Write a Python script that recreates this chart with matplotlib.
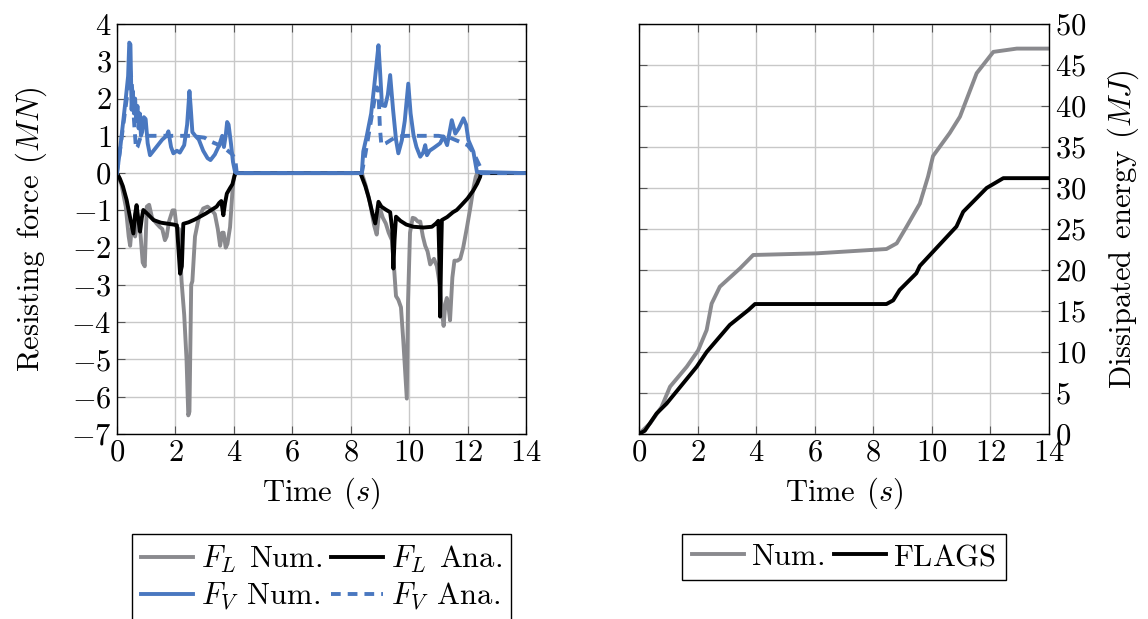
import numpy as np
import matplotlib
matplotlib.use("Agg")
import matplotlib.pyplot as plt

plt.rcParams["font.family"] = "serif"
plt.rcParams["font.serif"] = ["cmr10", "DejaVu Serif"]
plt.rcParams["mathtext.fontset"] = "cm"
plt.rcParams["axes.formatter.use_mathtext"] = True
plt.rcParams["font.size"] = 22

# ---- left panel: resisting forces (MN) ----
t_fl_num = [0, 0.15, 0.3, 0.4, 0.45, 0.5, 0.56, 0.62, 0.7, 0.8, 0.88, 0.95, 1.02, 1.1, 1.2, 1.35,
            1.47, 1.55, 1.64, 1.7, 1.78, 1.9, 1.97, 2.04, 2.12, 2.21, 2.3, 2.38, 2.44, 2.48, 2.54,
            2.58, 2.67, 2.8, 2.95, 3.1, 3.25, 3.35, 3.45, 3.53, 3.6, 3.65, 3.72, 3.78, 3.87, 3.95,
            4.0, 4.05, 8.38, 8.5, 8.66, 8.8, 8.89, 8.95, 9.02, 9.1, 9.2, 9.3, 9.41, 9.48, 9.55,
            9.63, 9.72, 9.8, 9.92, 9.96, 10.03, 10.12, 10.2, 10.3, 10.38, 10.47, 10.55, 10.63,
            10.72, 10.85, 10.95, 11.05, 11.12, 11.18, 11.24, 11.29, 11.35, 11.4, 11.48, 11.55,
            11.65, 11.75, 11.85, 11.98, 12.1, 12.2, 12.28, 12.33, 14]
fl_num = [0, -0.3, -0.9, -1.7, -1.95, -1.5, -1.35, -1.7, -1.3, -1.6, -2.4, -2.5, -0.9, -0.85, -1.2,
          -1.35, -1.45, -1.5, -1.8, -1.7, -1.3, -1.0, -1.0, -1.45, -1.5, -2.9, -3.8, -5.0, -6.5,
          -6.4, -3.0, -2.9, -1.7, -1.2, -0.95, -0.9, -1.0, -1.1, -1.5, -1.95, -1.6, -1.6, -2.0,
          -1.9, -1.45, -0.5, -0.1, 0, 0, -0.3, -0.8, -1.4, -1.65, -1.2, -1.0, -1.2, -1.35, -1.6,
          -1.8, -2.5, -3.3, -3.4, -3.6, -4.5, -6.05, -3.5, -1.6, -1.2, -1.22, -1.3, -1.3, -1.7,
          -1.95, -2.1, -2.45, -2.3, -2.5, -3.0, -3.7, -4.1, -3.5, -3.35, -3.6, -3.95, -2.8,
          -2.35, -2.35, -2.3, -2.0, -1.45, -0.9, -0.4, -0.1, 0, 0]

t_fl_ana = [0, 0.1, 0.2, 0.33, 0.45, 0.56, 0.62, 0.67, 0.74, 0.79, 0.85, 0.9, 1.05, 1.25, 1.5,
            1.75, 1.93, 2.05, 2.16, 2.22, 2.27, 2.45, 2.65, 2.84, 3.05, 3.25, 3.41, 3.5, 3.57,
            3.64, 3.7, 3.76, 3.87, 3.95, 4.0, 4.05, 8.33, 8.38, 8.5, 8.61, 8.75, 8.84, 8.9, 8.95,
            9.05, 9.2, 9.35, 9.42, 9.46, 9.5, 9.55, 9.7, 9.9, 10.15, 10.5, 10.78, 10.92, 11.0,
            11.04, 11.06, 11.1, 11.12, 11.3, 11.5, 11.63, 11.8, 12.0, 12.2, 12.33, 12.43, 12.45,
            14]
fl_ana = [0, -0.15, -0.35, -0.72, -1.2, -1.62, -1.1, -0.86, -1.3, -1.57, -1.2, -0.99, -1.1, -1.26,
          -1.33, -1.36, -1.38, -1.4, -2.7, -2.5, -1.36, -1.32, -1.25, -1.17, -1.08, -0.98, -0.9,
          -0.8, -0.75, -1.13, -0.8, -0.55, -0.4, -0.3, -0.15, 0, 0, -0.1, -0.35, -0.64, -1.1,
          -1.35, -1.05, -0.77, -0.9, -0.98, -1.05, -1.5, -2.56, -1.8, -1.17, -1.28, -1.38, -1.44,
          -1.46, -1.44, -1.35, -1.28, -2.5, -3.85, -2.0, -1.26, -1.18, -1.05, -0.99, -0.85,
          -0.68, -0.46, -0.28, -0.1, 0, 0]

t_fv_num = [0, 0.1, 0.2, 0.3, 0.38, 0.42, 0.46, 0.5, 0.54, 0.58, 0.62, 0.66, 0.7, 0.74, 0.78, 0.82,
            0.86, 0.92, 0.98, 1.05, 1.13, 1.25, 1.4, 1.55, 1.7, 1.76, 1.85, 1.93, 2.05, 2.15, 2.3,
            2.4, 2.48, 2.52, 2.58, 2.68, 2.8, 2.95, 3.1, 3.2, 3.35, 3.5, 3.6, 3.66, 3.72, 3.77,
            3.82, 3.9, 3.97, 4.04, 4.1, 8.38, 8.43, 8.55, 8.7, 8.8, 8.88, 8.95, 9.0, 9.07, 9.18,
            9.27, 9.35, 9.45, 9.55, 9.63, 9.75, 9.85, 9.97, 10.05, 10.15, 10.25, 10.38, 10.48,
            10.55, 10.61, 10.7, 10.85, 11.06, 11.18, 11.3, 11.46, 11.58, 11.7, 11.86, 11.95,
            12.03, 12.2, 12.32, 14]
fv_num = [0, 0.6, 1.3, 2.0, 2.6, 3.5, 3.45, 1.7, 2.2, 1.6, 2.0, 1.4, 1.8, 1.2, 1.6, 1.0, 1.1, 1.5,
          1.45, 0.8, 0.48, 0.6, 0.75, 0.9, 1.0, 1.12, 0.7, 0.53, 0.6, 0.55, 0.75, 1.3, 2.2, 1.8,
          1.1, 1.0, 0.9, 0.6, 0.4, 0.35, 0.5, 0.75, 1.0, 0.7, 1.0, 1.37, 1.3, 0.8, 0.3, 0.03, 0,
          0, 0.58, 1.0, 1.6, 2.3, 2.9, 3.43, 2.8, 1.82, 1.8, 2.1, 2.63, 1.7, 0.9, 0.53, 0.88, 1.4,
          2.4, 1.6, 1.02, 0.7, 0.44, 0.55, 0.75, 0.48, 0.6, 0.68, 0.8, 0.98, 0.75, 1.42, 1.06,
          1.2, 1.47, 1.3, 0.88, 0.57, 0.03, 0]

t_fv_ana = [0, 0.1, 0.2, 0.3, 0.4, 0.45, 0.5, 0.55, 0.6, 0.65, 0.7, 0.8, 1.0, 1.5, 2.0, 2.5, 3.0,
            3.2, 3.5, 3.76, 3.95, 4.05, 4.1, 8.38, 8.5, 8.65, 8.8, 8.9, 8.95, 9.0, 9.05, 9.2, 9.4,
            9.6, 9.92, 10.5, 11.0, 11.4, 11.7, 12.0, 12.2, 12.35, 12.43, 12.45, 14]
fv_ana = [0, 0.6, 1.2, 1.8, 2.4, 2.75, 2.5, 1.8, 1.2, 0.65, 0.7, 0.95, 1.0, 1.0, 1.0, 1.0, 0.95,
          0.85, 0.75, 0.62, 0.5, 0.35, 0, 0, 0.5, 1.2, 1.9, 2.3, 2.2, 1.2, 0.75, 0.8, 0.9, 0.98,
          1.0, 1.0, 1.0, 0.95, 0.85, 0.75, 0.55, 0.3, 0.17, 0, 0]

# ---- right panel: dissipated energy (MJ) ----
t_e_num = [0, 0.03, 0.38, 0.77, 1.06, 1.63, 2.02, 2.31, 2.48, 2.76, 3.45, 3.9, 6.06, 8.45, 8.8,
           9.14, 9.59, 9.87, 10.04, 10.61, 10.96, 11.53, 12.1, 12.9, 14]
e_num = [0, 0.1, 1.3, 3.3, 5.77, 8.2, 10.2, 12.68, 15.9, 17.96, 20.2, 21.83, 22.03, 22.56, 23.25,
         25.3, 28.1, 31.4, 33.9, 36.7, 38.7, 44.0, 46.6, 47.0, 47.0]
t_e_flags = [0, 0.2, 0.6, 0.94, 1.97, 2.31, 3.1, 3.73, 3.96, 8.45, 8.68, 8.9, 9.47, 9.59, 10.84,
             11.07, 11.87, 12.44, 14]
e_flags = [0, 0.4, 2.5, 3.7, 8.2, 10.0, 13.3, 15.1, 15.85, 15.85, 16.3, 17.56, 19.6, 20.5, 25.3,
           27.1, 30.0, 31.2, 31.2]

GRAY = "#8a8a8e"
BLUE = "#4a78c0"
LW = 2.8

fig = plt.figure(figsize=(11.48, 6.19), dpi=100)
ax1 = fig.add_axes([117 / 1148, 1 - 434 / 619, 409 / 1148, 410 / 619])
ax2 = fig.add_axes([639 / 1148, 1 - 434 / 619, 410 / 1148, 410 / 619])


def style(ax):
    ax.grid(True, color="#c8c8c8", lw=1.0)
    ax.set_axisbelow(True)
    ax.tick_params(direction="in", top=True, right=True, length=6, color="#555555",
                   labelsize=22, pad=4)
    for s in ax.spines.values():
        s.set_linewidth(1.0)


leg_kw = dict(loc="upper center", bbox_to_anchor=(0.5, -0.245), borderaxespad=0,
              fancybox=False, edgecolor="black", framealpha=1, fontsize=22,
              handlelength=1.7, handletextpad=0.25, columnspacing=0.3,
              labelspacing=0.2, borderpad=0.3)

ax1.plot(t_fl_num, fl_num, color=GRAY, lw=LW, label=r"$F_L\;\,\mathrm{Num.}$")
ax1.plot(t_fl_ana, fl_ana, color="black", lw=LW, label=r"$F_L\;\,\mathrm{Ana.}$")
ax1.plot(t_fv_num, fv_num, color=BLUE, lw=LW, label=r"$F_V\;\,\mathrm{Num.}$")
ax1.plot(t_fv_ana, fv_ana, color=BLUE, lw=LW, ls=(0, (2.5, 1.8)), label=r"$F_V\;\,\mathrm{Ana.}$")
ax1.set_xlim(0, 14)
ax1.set_ylim(-7, 4)
ax1.set_xticks(np.arange(0, 15, 2))
ax1.set_yticks(np.arange(-7, 5, 1))
style(ax1)
ax1.set_xlabel(r"$\mathrm{Time}\;\,(s)$", fontsize=22, labelpad=6)
ax1.set_ylabel(r"$\mathrm{Resisting\;\,force}\;\,(MN)$", fontsize=22, labelpad=16)
h = ax1.get_legend_handles_labels()
order = [0, 2, 1, 3]
ax1.legend([h[0][i] for i in order], [h[1][i] for i in order], ncol=2, **leg_kw)

ax2.plot(t_e_num, e_num, color=GRAY, lw=LW, label=r"$\mathrm{Num.}$")
ax2.plot(t_e_flags, e_flags, color="black", lw=LW, label=r"$\mathrm{FLAGS}$")
ax2.set_xlim(0, 14)
ax2.set_ylim(0, 50)
ax2.set_xticks(np.arange(0, 15, 2))
ax2.set_yticks(np.arange(0, 51, 5))
style(ax2)
ax2.yaxis.tick_right()
ax2.tick_params(left=True, labelleft=False, labelright=True)
ax2.yaxis.set_label_position("right")
ax2.set_xlabel(r"$\mathrm{Time}\;\,(s)$", fontsize=22, labelpad=6)
ax2.set_ylabel(r"$\mathrm{Dissipated\;\,energy}\;\,(MJ)$", fontsize=22, labelpad=14)
ax2.legend(ncol=2, **leg_kw)

fig.savefig("out.png", dpi=100)
